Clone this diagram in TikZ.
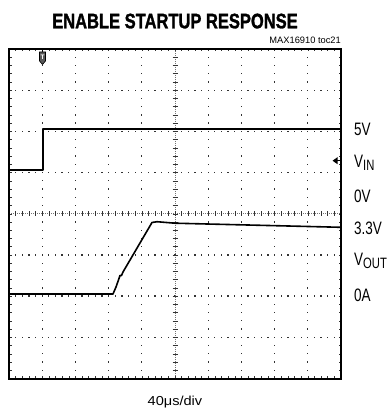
\documentclass[tikz,border=0pt]{standalone}
\usepackage{fontspec}
\setmainfont{Liberation Sans}
\newfontfamily\heavyfont[FakeBold=1.6]{Liberation Sans Bold}
\usepackage{graphicx}
\newcommand\rlab[1]{\scalebox{0.75}[1]{\fontsize{18}{18}\selectfont #1}}
\newcommand\slab[2]{\scalebox{0.75}[1]{\fontsize{18}{18}\selectfont #1\raisebox{-3.7pt}{\fontsize{15}{15}\selectfont #2}}}
\begin{document}
\begin{tikzpicture}[x=1pt,y=-1pt,
  dotc/.style={fill=black!80},
  trace/.style={line width=1.6pt,line join=round,line cap=round,black},
  frame/.style={line width=2pt,black},
  tick/.style={line width=0.5pt,black!80},
  lbl/.style={inner sep=0pt,anchor=base west}]
\useasboundingbox (0,0) rectangle (388,411);
% grid dots on vertical lines
\foreach \i in {1,2,3,4,6,7,8,9}{
  \foreach \j in {1,...,39}{
    \pgfmathsetmacro\xx{9+33.2*\i}
    \pgfmathsetmacro\yy{49+8.2375*\j}
    \fill[dotc] (\xx-0.65,\yy-0.65) rectangle ++(1.3,1.3);
  }
}
% grid dots on horizontal lines
\foreach \k in {1,2,3,5,6,7}{
  \foreach \j in {1,...,49}{
    \pgfmathsetmacro\xx{9+6.64*\j}
    \pgfmathsetmacro\yy{49+41.1875*\k}
    \fill[dotc] (\xx-0.65,\yy-0.65) rectangle ++(1.3,1.3);
  }
}
% centre axes
\draw[black!55,line width=0.6pt,dash pattern=on 1pt off 1pt] (175,49) -- (175,378.5);
\draw[black!55,line width=0.6pt,dash pattern=on 1pt off 1pt] (9,213.75) -- (341,213.75);
\foreach \j in {1,...,39}{
  \pgfmathsetmacro\yy{49+8.2375*\j}
  \draw[tick] (172.5,\yy) -- (177.5,\yy);
  \draw[tick] (9,\yy) -- (11.5,\yy);
  \draw[tick] (341,\yy) -- (338.5,\yy);
}
\foreach \j in {1,...,49}{
  \pgfmathsetmacro\xx{9+6.64*\j}
  \draw[tick] (\xx,211.25) -- (\xx,216.25);
  \draw[tick] (\xx,49) -- (\xx,51.5);
  \draw[tick] (\xx,378.5) -- (\xx,376);
}
% frame
\draw[frame] (9,49) rectangle (341,378.5);
% trigger marker
\draw[line width=0.8pt] (42.5,49) -- (42.5,52);
\filldraw[fill=black!65,draw=black,line width=0.6pt] (39.5,52) -- (45.5,52) -- (45.5,61) -- (42.5,64.5) -- (39.5,61) -- cycle;
\node[text=white,inner sep=0pt,font=\fontsize{6.5}{6.5}\selectfont\bfseries] (trig) at (42.5,57) {T};
% ground marker
\fill (332.5,160.7) -- (337.5,157.2) -- (337.5,164.2) -- cycle;
\draw[line width=0.8pt] (336,160.7) -- (341,160.7);
% traces
\draw[trace] (9,170) -- (43,170) -- (43,129.3) -- (341,129.3);
\draw[trace] (9,294) -- (113,294) -- (116,287) -- (119,278.5) -- (120,275.5) -- (121.5,275.5) -- (123,272) -- (152,222.5) -- (157,221.7) -- (175,223.2) -- (341,227.3);
% texts
\node[inner sep=0pt,anchor=base] (title) at (175,28.3) {\scalebox{0.786}[1]{\fontsize{21}{21}\selectfont\heavyfont ENABLE STARTUP RESPONSE}};
\node[inner sep=0pt,anchor=base east] (toc) at (341,44) {\fontsize{9.3}{9.3}\selectfont MAX16910 toc21};
\node[inner sep=0pt,anchor=base] (time) at (175,405) {\scalebox{1.12}[1]{\fontsize{13}{13}\selectfont 40μs/div}};
\node[lbl] (v5) at (354,136) {\rlab{5V}};
\node[lbl] (vin) at (354,167.3) {\slab{V}{IN}};
\node[lbl] (v0) at (354,202.7) {\rlab{0V}};
\node[lbl] (v33) at (354,234.3) {\rlab{3.3V}};
\node[lbl] (vout) at (354,265) {\slab{V}{OUT}};
\node[lbl] (a0) at (354,301.7) {\rlab{0A}};
\end{tikzpicture}
\end{document}
